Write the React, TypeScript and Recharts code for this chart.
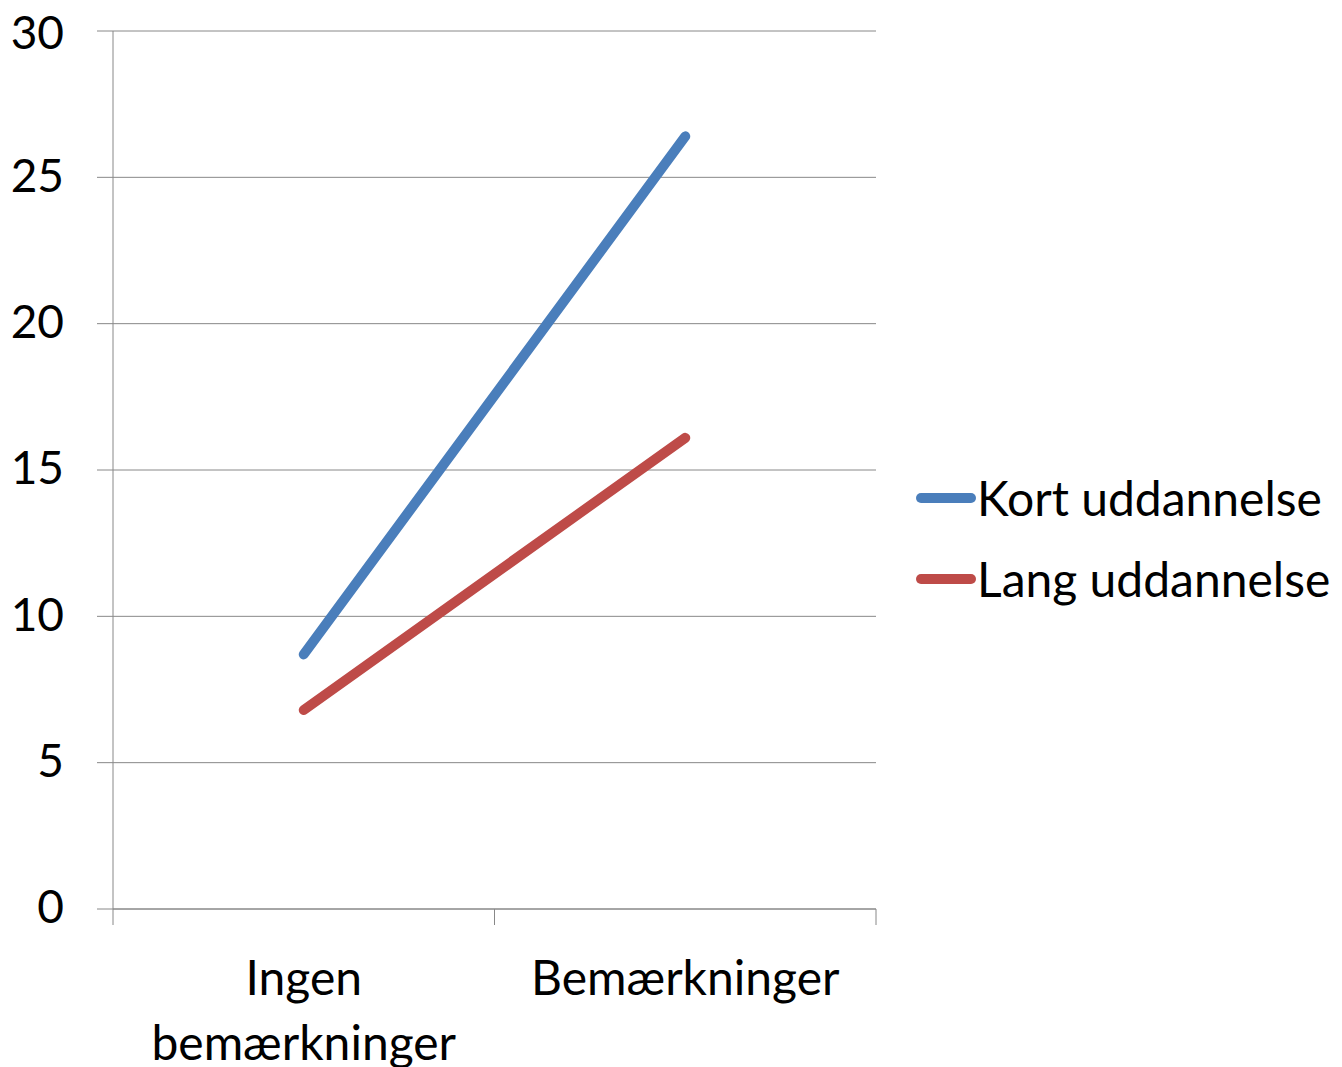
import React from 'react'
import { LineChart, Line, XAxis, YAxis, CartesianGrid } from 'recharts'

const categories = ['Ingen bemærkninger', 'Bemærkninger']
const kortValues = [8.7, 26.4]
const langValues = [6.8, 16.1]
const yTicks = [0, 5, 10, 15, 20, 25, 30]

const SERIES = [
  { key: 'kort', name: 'Kort uddannelse', color: '#4a7ebb', values: kortValues },
  { key: 'lang', name: 'Lang uddannelse', color: '#be4b48', values: langValues },
]

const data = categories.map((c, i) => ({
  category: c,
  kort: kortValues[i],
  lang: langValues[i],
}))

const FONT = 'Lato, "Open Sans", sans-serif'
const AXIS_GRAY = '#888888'
const TICK = 16

// category ticks sit between the categories (Excel style), labels are wrapped per word
function CategoryTick(props: any) {
  const { x, y, payload, index } = props
  const half = payload?.offset ?? 0
  const axisY = y - TICK
  const last = index === categories.length - 1
  const lines = String(payload.value).split(' ')
  return (
    <g>
      <line x1={x - half} y1={axisY} x2={x - half} y2={axisY + TICK} stroke={AXIS_GRAY} />
      {last && <line x1={x + half} y1={axisY} x2={x + half} y2={axisY + TICK} stroke={AXIS_GRAY} />}
      <text x={x} y={y + 70} textAnchor="middle" fill="#000" style={{ fontSize: 48, fontFamily: FONT }}>
        {lines.map((l, i) => (
          <tspan key={i} x={x} dy={i === 0 ? 0 : 65}>
            {l}
          </tspan>
        ))}
      </text>
    </g>
  )
}

export default function App() {
  return (
    <div style={{ position: 'relative', width: 1334, height: 1059, fontFamily: FONT }}>
      <LineChart width={1334} height={1059} data={data} margin={{ top: 23, right: 466, bottom: 0, left: 0 }}>
        <CartesianGrid vertical={false} stroke={AXIS_GRAY} />
        <XAxis
          dataKey="category"
          scale="band"
          height={158}
          axisLine={{ stroke: AXIS_GRAY }}
          tickLine={{ stroke: 'none' }}
          tickSize={TICK}
          tickMargin={0}
          interval={0}
          tick={<CategoryTick />}
        />
        <YAxis
          domain={[0, 30]}
          ticks={yTicks}
          width={105}
          axisLine={{ stroke: AXIS_GRAY }}
          tickLine={{ stroke: AXIS_GRAY }}
          tickSize={TICK}
          tickMargin={33}
          tick={{ fill: '#000', fontSize: 46, fontFamily: FONT, dy: -2 }}
        />
        {SERIES.map((s) => (
          <Line
            key={s.key}
            dataKey={s.key}
            name={s.name}
            stroke={s.color}
            strokeWidth={10}
            strokeLinecap="round"
            dot={false}
            activeDot={false}
            isAnimationActive={false}
          />
        ))}
      </LineChart>
      <div style={{ position: 'absolute', left: 907, top: 449 }}>
        {SERIES.map((s) => (
          <div key={s.key} style={{ display: 'flex', alignItems: 'center', height: 81 }}>
            <svg width={62} height={12} style={{ display: 'block' }}>
              <line x1={6} y1={6} x2={56} y2={6} stroke={s.color} strokeWidth={10} strokeLinecap="round" />
            </svg>
            <span style={{ fontSize: 48, color: '#000', lineHeight: 1 }}>{s.name}</span>
          </div>
        ))}
      </div>
    </div>
  )
}
